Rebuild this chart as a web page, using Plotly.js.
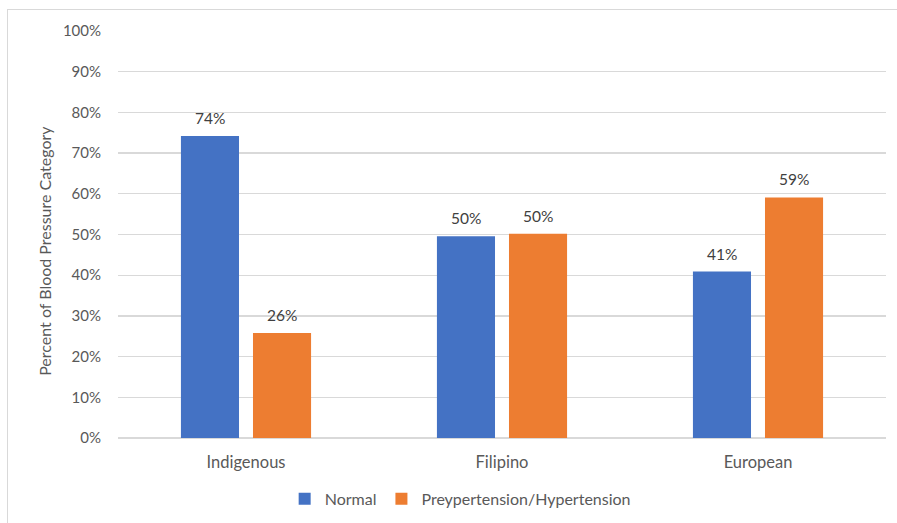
<!DOCTYPE html>
<html>
<head>
<meta charset="utf-8">
<script src="https://cdn.plot.ly/plotly-3.0.1.min.js"></script>
<style>
  html, body { margin: 0; padding: 0; background: #ffffff; }
  #frame { position: absolute; left: 0; top: 0; width: 897px; height: 523px; overflow: hidden; }
  #border { position: absolute; left: 7px; top: 9px; width: 900px; height: 520px; border: 1px solid #d9d9d9; box-sizing: border-box; pointer-events: none; }
  #chart { position: absolute; left: 0; top: 0; width: 897px; height: 523px; }
</style>
</head>
<body>
<div id="frame">
  <div id="chart"></div>
  <div id="border"></div>
</div>
<script>
// Blood pressure category share by group
const groups = ['Indigenous', 'Filipino', 'European'];
const normal = [0.742, 0.496, 0.409];
const prehyper = [0.258, 0.502, 0.591];
const seriesNames = ['Normal', 'Preypertension/Hypertension'];
const seriesColors = ['#4472c4', '#ed7d31'];
const yTicks = [0, 0.1, 0.2, 0.3, 0.4, 0.5, 0.6, 0.7, 0.8, 0.9, 1.0];
const yTitle = 'Percent of Blood Pressure Category';

const FONT = 'Lato, "Open Sans", "Noto Sans", sans-serif';
const GRAY = '#595959';

const series = [normal, prehyper];
const traces = series.map((vals, i) => ({
  type: 'bar',
  name: seriesNames[i],
  x: groups,
  y: vals,
  marker: { color: seriesColors[i] },
  hoverinfo: 'none'
}));

// value labels sitting above each bar
const annotations = [];
series.forEach((vals, i) => {
  vals.forEach((v, j) => {
    annotations.push({
      x: groups[j], y: v, xref: 'x', yref: 'y',
      xshift: i === 0 ? -36 : 36, yshift: 18,
      text: Math.round(v * 100) + '%',
      showarrow: false,
      font: { family: FONT, size: 15.5, color: '#404040' },
      xanchor: 'center', yanchor: 'middle'
    });
  });
});

// vertical axis title, centred on the chart area
annotations.push({
  x: -0.095, y: 0.46, xref: 'paper', yref: 'paper',
  text: yTitle, textangle: -90, showarrow: false,
  font: { family: FONT, size: 16, color: GRAY },
  xanchor: 'center', yanchor: 'middle'
});

const layout = {
  width: 897, height: 523,
  margin: { l: 118, r: 11, t: 31, b: 85 },
  paper_bgcolor: 'rgba(0,0,0,0)',
  plot_bgcolor: 'rgba(0,0,0,0)',
  barmode: 'group',
  bargap: 0.437,
  bargroupgap: 0.194,
  font: { family: FONT, size: 15, color: GRAY },
  xaxis: {
    automargin: false,
    showgrid: false, zeroline: false, showline: false,
    ticks: '', ticklabelstandoff: 12,
    tickfont: { family: FONT, size: 16.5, color: GRAY },
    fixedrange: true
  },
  yaxis: {
    automargin: false,
    range: [0, 1],
    tickvals: yTicks,
    tickformat: '.0%',
    showgrid: true, gridcolor: '#d9d9d9', gridwidth: 1.3,
    zeroline: true, zerolinecolor: '#d9d9d9', zerolinewidth: 1.3,
    showline: false, ticks: '',
    ticklabelstandoff: 16,
    tickfont: { family: FONT, size: 15, color: GRAY },
    fixedrange: true
  },
  showlegend: true,
  legend: {
    orientation: 'h',
    xref: 'container', yref: 'container',
    x: 0.513, xanchor: 'center',
    y: 0.046, yanchor: 'middle',
    font: { family: FONT, size: 16, color: GRAY },
    itemclick: false, itemdoubleclick: false
  },
  annotations: annotations
};

Plotly.newPlot('chart', traces, layout, { displayModeBar: false, staticPlot: true });
</script>
</body>
</html>
